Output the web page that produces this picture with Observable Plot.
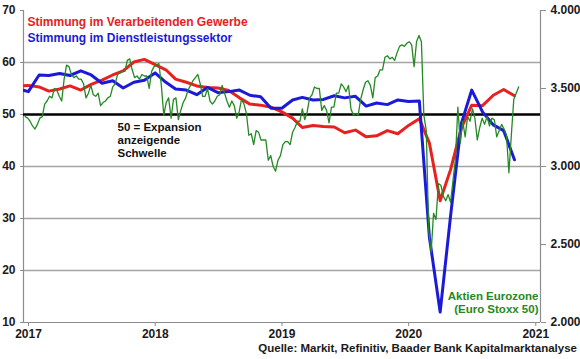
<!DOCTYPE html>
<html><head><meta charset="utf-8">
<script src="https://cdn.jsdelivr.net/npm/d3@7"></script>
<script src="https://cdn.jsdelivr.net/npm/@observablehq/plot@0.6"></script>
<style>
body{margin:0;background:#fff;font-family:"Liberation Sans",Arial,sans-serif}
#chart svg{display:block}
#caption{width:580px;box-sizing:border-box;text-align:right;padding-right:3px;font:bold 11.5px "Liberation Sans",Arial,sans-serif;color:#1a1a1a;line-height:12px;white-space:nowrap}
</style></head><body><div id="chart"></div><div id="caption"></div>
<script>
// ---- data ----
const pmiMonths = [
  "2016-12",
  "2017-01","2017-02","2017-03","2017-04","2017-05","2017-06","2017-07","2017-08","2017-09","2017-10","2017-11","2017-12",
  "2018-01","2018-02","2018-03","2018-04","2018-05","2018-06","2018-07","2018-08","2018-09","2018-10","2018-11","2018-12",
  "2019-01","2019-02","2019-03","2019-04","2019-05","2019-06","2019-07","2019-08","2019-09","2019-10","2019-11","2019-12",
  "2020-01","2020-02","2020-03","2020-04","2020-05","2020-06","2020-07","2020-08","2020-09","2020-10","2020-11"
];
const manufacturing = [
  55.5,
  55.6, 55.3, 54.5, 54.9, 55.5, 54.7, 55.8, 56.6, 57.6, 58.4, 60.1, 60.6,
  59.6, 58.6, 56.8, 56.2, 55.5, 55.2, 55.1, 54.6, 53.2, 52.0, 51.8, 51.4,
  50.5, 49.3, 47.5, 47.9, 47.7, 47.6, 46.5, 47.0, 45.7, 45.9, 46.9, 46.3,
  47.9, 49.2, 44.5, 33.4, 39.4, 47.4, 51.8, 51.7, 53.7, 54.8, 53.6
];
const services = [
  55.0,
  54.4, 57.6, 57.5, 57.9, 57.5, 58.4, 57.6, 56.0, 56.5, 55.1, 56.2, 56.6,
  58.0, 56.2, 54.9, 54.7, 53.8, 55.2, 54.2, 54.4, 54.7, 53.7, 53.4, 51.2,
  51.2, 52.8, 53.3, 52.8, 52.9, 53.6, 53.2, 53.5, 51.6, 52.2, 51.9, 52.8,
  52.5, 52.6, 26.4, 12.0, 30.5, 48.3, 54.7, 50.5, 48.0, 46.9, 41.3
];
// Euro Stoxx 50, weekly (Fridays) starting 2017-01-06
const stoxxStart = "2017-01-06";
const stoxxWeekly = [
  // 2017
  3320, 3310, 3290, 3260,  3240, 3270, 3310, 3320,  3400, 3420, 3450, 3440, 3500,
  3490, 3450, 3420, 3560,  3650, 3640, 3590, 3570,  3580, 3560, 3560, 3530, 3440,
  3470, 3520, 3460, 3450,  3470, 3390, 3410, 3420,  3440, 3450, 3510, 3530, 3590,
  3600, 3610, 3610, 3680,  3690, 3620, 3570, 3580,  3560, 3590, 3580, 3580, 3500,
  // 2018
  3610, 3640, 3650, 3660,  3520, 3330, 3410, 3440,  3310, 3430, 3440, 3300, 3360,
  3410, 3440, 3490, 3520,  3550, 3570, 3590, 3530,  3450, 3450, 3500, 3420, 3400,
  3420, 3450, 3460, 3520,  3470, 3420, 3380, 3420, 3390,  3310, 3350, 3430, 3400,
  3340, 3200, 3210, 3140,  3230, 3220, 3170, 3170, 3170,  3040, 3070, 3000, 2970,
  // 2019
  3040, 3070, 3140, 3160,  3160, 3140, 3220, 3250,  3290, 3290, 3370, 3300, 3350,
  3440, 3460, 3510, 3500,  3500, 3360, 3390, 3360, 3280,  3380, 3380, 3470, 3470,
  3530, 3510, 3480, 3520,  3370, 3330, 3340, 3330, 3430,  3490, 3540, 3550, 3520,
  3440, 3570, 3580, 3620,  3620, 3700, 3710, 3690, 3700,  3680, 3730, 3770, 3780,
  // 2020
  3770, 3790, 3800, 3780, 3640,  3800, 3840, 3800, 3330,  3230, 2590, 2450, 2700,
  2660, 2890, 2880, 2810,  2780, 2820, 2770, 2910, 3050,  3380, 3150, 3290, 3190,
  3320, 3290, 3370, 3310, 3170,  3250, 3310, 3270, 3320,  3260, 3310, 3300, 3190,
  3230, 3270, 3240, 3200, 2960,  3200, 3430, 3470, 3510
];
const yearTicks = ["2017", "2018", "2019", "2020", "2021"];
const leftTicks = [10, 20, 30, 40, 50, 60, 70];
const rightTicks = [2000, 2500, 3000, 3500, 4000];
const gridValues = [20, 30, 40, 60];
const threshold = 50;
const pmiRange = [10, 70];
const stoxxRange = [2000, 4000];
const labelManufacturing = "Stimmung im Verarbeitenden Gewerbe";
const labelServices = "Stimmung im Dienstleistungssektor";
const labelThreshold = "50 = Expansion\nanzeigende\nSchwelle";
const labelStoxx = "Aktien Eurozone\n(Euro Stoxx 50)";
const captionText = "Quelle: Markit, Refinitiv, Baader Bank Kapitalmarktanalyse";

// ---- build tables ----
const RED = "#e8201f", BLUE = "#1a1ad8", GREEN = "#238a23";
const toPmi = s => pmiRange[0] + (s - stoxxRange[0]) * (pmiRange[1] - pmiRange[0]) / (stoxxRange[1] - stoxxRange[0]);
const fromPmi = p => stoxxRange[0] + (p - pmiRange[0]) * (stoxxRange[1] - stoxxRange[0]) / (pmiRange[1] - pmiRange[0]);
const pmiRows = pmiMonths.map((m, i) => ({date: new Date(m + "-15"), manu: manufacturing[i], serv: services[i]}));
const start = new Date(stoxxStart);
const stoxxRows = stoxxWeekly.map((v, i) => ({date: d3.utcDay.offset(start, 7 * i), v: toPmi(v)}));
const dePoint = s => { const r = Math.round(s); return Math.floor(r / 1000) + "." + String(r % 1000).padStart(3, "0"); };
const x0 = new Date("2017-01-01"), x1 = new Date("2021-01-29");
const years = yearTicks.map(y => new Date(y + "-01-01"));

const chart = Plot.plot({
  width: 580, height: 342,
  marginLeft: 23, marginRight: 40, marginTop: 10, marginBottom: 20,
  style: {fontFamily: '"Liberation Sans", Arial, sans-serif', fontSize: "12px", fontWeight: "bold", color: "#1a1a1a", background: "white"},
  x: {type: "utc", domain: [x0, x1]},
  y: {domain: pmiRange},
  marks: [
    Plot.ruleY(gridValues, {stroke: "#a3a3a3", strokeWidth: 1.4}),
    Plot.ruleY([pmiRange[0]], {stroke: "#8c8c8c", strokeWidth: 1.2}),
    Plot.ruleX([x0, x1], {stroke: "#8c8c8c", strokeWidth: 1.2}),
    Plot.axisX(years, {tickFormat: "%Y", tickSize: 4, tickPadding: 3, dx: 5, stroke: "#8c8c8c", fill: "#1a1a1a", label: null}),
    Plot.axisY(leftTicks, {anchor: "left", tickSize: 3, tickPadding: 5, stroke: "#8c8c8c", fill: "#1a1a1a", label: null}),
    Plot.axisY(rightTicks.map(toPmi), {anchor: "right", tickSize: 5, tickPadding: 5, tickFormat: d => dePoint(fromPmi(d)), stroke: "#8c8c8c", fill: "#1a1a1a", label: null}),
    Plot.ruleY([threshold], {stroke: "#000", strokeWidth: 2.6}),
    Plot.line(pmiRows, {x: "date", y: "manu", stroke: RED, strokeWidth: 3, clip: true}),
    Plot.line(pmiRows, {x: "date", y: "serv", stroke: BLUE, strokeWidth: 3, clip: true}),
    Plot.line(stoxxRows, {x: "date", y: "v", stroke: GREEN, strokeWidth: 1.3, clip: true}),
    Plot.text([labelManufacturing], {text: d => d, frameAnchor: "top-left", textAnchor: "start", lineAnchor: "top", dx: 4, dy: 7, fill: RED, fontSize: 12}),
    Plot.text([labelServices], {text: d => d, frameAnchor: "top-left", textAnchor: "start", lineAnchor: "top", dx: 4, dy: 23, fill: BLUE, fontSize: 12}),
    Plot.text([labelThreshold], {text: d => d, frameAnchor: "top-left", textAnchor: "start", lineAnchor: "top", dx: 94, dy: 112, lineHeight: 1.1, fill: "#111", fontSize: 11.5}),
    Plot.text([labelStoxx], {text: d => d, frameAnchor: "bottom-right", textAnchor: "end", lineAnchor: "top", dx: -2, dy: -31, lineHeight: 1.1, fill: GREEN, fontSize: 11.5})
  ]
});
document.getElementById("chart").appendChild(chart);
document.getElementById("caption").textContent = captionText;
</script></body></html>
